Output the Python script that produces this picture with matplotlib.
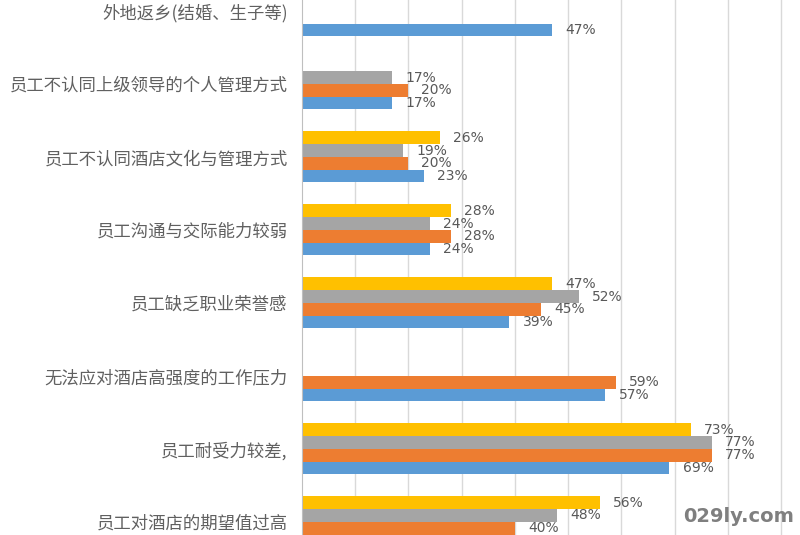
import numpy as np
import matplotlib.pyplot as plt

plt.rcParams['font.family'] = ['Noto Sans CJK SC', 'DejaVu Sans']

categories = ['外地返乡(结婚、生子等)', '员工不认同上级领导的个人管理方式',
              '员工不认同酒店文化与管理方式', '员工沟通与交际能力较弱',
              '员工缺乏职业荣誉感', '无法应对酒店高强度的工作压力',
              '员工耐受力较差,', '员工对酒店的期望值过高']

# series drawn bottom-up inside each group: blue, orange, gray, yellow
blue = [47, 17, 23, 24, 39, 57, 69, np.nan]
orange = [np.nan, 20, 20, 28, 45, 59, 77, 40]
gray = [np.nan, 17, 19, 24, 52, np.nan, 77, 48]
yellow = [np.nan, np.nan, 26, 28, 47, np.nan, 73, 56]

series = [blue, orange, gray, yellow]
colors = ['#5B9BD5', '#ED7D31', '#A5A5A5', '#FFC000']
offsets = [1.5, 0.5, -0.5, -1.5]

fig = plt.figure(figsize=(8, 5.35), dpi=100)
ax = fig.add_axes([0.377, 0.0, 0.623, 1.0])

y = np.arange(len(categories))
h = 0.175
for vals, col, off in zip(series, colors, offsets):
    vals = np.array(vals, dtype=float)
    bars = ax.barh(y + off * h, vals, height=h, color=col, zorder=2)
    for b, v in zip(bars, vals):
        if np.isnan(v):
            continue
        ax.annotate(f'{v:.0f}%', (v, b.get_y() + h / 2), xytext=(9.5, 0),
                    textcoords='offset points', ha='left', va='center',
                    fontsize=10, color='#595959', family='DejaVu Sans')

ax.set_xlim(0, 93.5)
ax.set_ylim(7.18, -0.15)
ax.set_xticks(np.arange(10, 100, 10))
ax.xaxis.grid(True, color='#D9D9D9', linewidth=1, zorder=0)
ax.tick_params(axis='x', length=0, labelbottom=False)
ax.set_yticks(y)
ax.set_yticklabels(categories, fontsize=12.5, color='#606060')
ax.tick_params(axis='y', length=0, pad=10)
for s in ['top', 'right', 'bottom']:
    ax.spines[s].set_visible(False)
ax.spines['left'].set_color('#BFBFBF')

fig.text(0.993, 0.035, '029ly.com', ha='right', va='center', fontsize=14,
         fontweight='bold', color='#7F7F7F', family='DejaVu Sans')

fig.savefig('out.png', dpi=100)
